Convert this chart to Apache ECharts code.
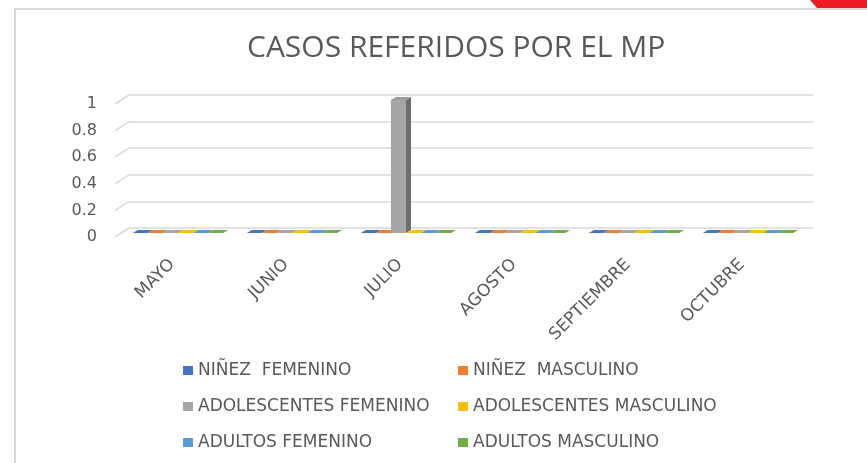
<!DOCTYPE html>
<html>
<head>
<meta charset="utf-8">
<script src="https://cdn.jsdelivr.net/npm/echarts@6/dist/echarts.min.js"></script>
<style>
  html, body { margin: 0; padding: 0; background: #fff; }
  #chart { width: 867px; height: 463px; }
</style>
</head>
<body>
<div id="chart"></div>
<script>
// datos
const meses = ['MAYO', 'JUNIO', 'JULIO', 'AGOSTO', 'SEPTIEMBRE', 'OCTUBRE'];
const ninezFemenino = [0, 0, 0, 0, 0, 0];
const ninezMasculino = [0, 0, 0, 0, 0, 0];
const adolescentesFemenino = [0, 0, 1, 0, 0, 0];
const adolescentesMasculino = [0, 0, 0, 0, 0, 0];
const adultosFemenino = [0, 0, 0, 0, 0, 0];
const adultosMasculino = [0, 0, 0, 0, 0, 0];
const yTicks = [0, 0.2, 0.4, 0.6, 0.8, 1];

const seriesDef = [
  { name: 'NIÑEZ  FEMENINO', data: ninezFemenino, color: '#4472C4', side: '#2f5597', top: '#5b86d6' },
  { name: 'NIÑEZ  MASCULINO', data: ninezMasculino, color: '#ED7D31', side: '#b85e20', top: '#f08f4e' },
  { name: 'ADOLESCENTES FEMENINO', data: adolescentesFemenino, color: '#A5A5A5', side: '#6e6e6e', top: '#9a9a9a' },
  { name: 'ADOLESCENTES MASCULINO', data: adolescentesMasculino, color: '#FFC000', side: '#bf9000', top: '#ffc91f' },
  { name: 'ADULTOS FEMENINO', data: adultosFemenino, color: '#5B9BD5', side: '#3e78ad', top: '#6fa8dc' },
  { name: 'ADULTOS MASCULINO', data: adultosMasculino, color: '#70AD47', side: '#4f7f30', top: '#7cb955' }
];

const chart = echarts.init(document.getElementById('chart'));
const titleFont = '"Open Sans", "Noto Sans", sans-serif';
const fontFam = '"DejaVu Sans", sans-serif';
const txtColor = '#595959';

// desplazamiento del plano trasero y de las barras (efecto 3D)
const backDx = 14, backDy = -9;
const barDx = 6, barDy = -4;
const depthDx = 5, depthDy = -3;

function makeBarRender(idx, s) {
  return function (params, api) {
    const cat = api.value(0);
    const val = api.value(1);
    const base = api.coord([cat, 0]);
    const topPt = api.coord([cat, val]);
    const band = api.size([1, 0])[0];
    const bw = band * 0.132;
    const x0 = base[0] - 3 * bw + idx * bw + barDx;
    const x1 = x0 + bw;
    const yb = base[1] + barDy;
    const yt = topPt[1] + barDy;
    const children = [];
    if (yb - yt > 0.5) {
      children.push({ type: 'rect', shape: { x: x0, y: yt, width: bw, height: yb - yt }, style: { fill: s.color } });
      children.push({ type: 'polygon', shape: { points: [[x1, yt], [x1 + depthDx, yt + depthDy], [x1 + depthDx, yb + depthDy], [x1, yb]] }, style: { fill: s.side } });
    }
    children.push({ type: 'polygon', shape: { points: [[x0, yt], [x1, yt], [x1 + depthDx, yt + depthDy], [x0 + depthDx, yt + depthDy]] }, style: { fill: yb - yt > 0.5 ? s.top : s.color } });
    return { type: 'group', children: children };
  };
}

const series = seriesDef.map(function (s, i) {
  return {
    name: s.name,
    type: 'custom',
    xAxisIndex: 0,
    yAxisIndex: 0,
    itemStyle: { color: s.color },
    renderItem: makeBarRender(i, s),
    encode: { x: 0, y: 1 },
    data: s.data.map(function (v, k) { return [k, v]; }),
    z: 5
  };
});

// diagonales del lado izquierdo
series.push({
  type: 'custom',
  xAxisIndex: 0,
  yAxisIndex: 0,
  silent: true,
  renderItem: function (params, api) {
    const p = api.coord([0, api.value(1)]);
    const x = params.coordSys.x;
    return {
      type: 'line',
      shape: { x1: x, y1: p[1], x2: x + backDx, y2: p[1] + backDy },
      style: { stroke: '#d9d9d9', lineWidth: 1.5 }
    };
  },
  data: yTicks.map(function (v) { return [0, v]; }),
  z: 1
});

const legendText = { color: txtColor, fontSize: 17, fontFamily: fontFam };

chart.setOption({
  backgroundColor: '#fff',
  animation: false,
  title: {
    text: 'CASOS REFERIDOS POR EL MP',
    left: 242,
    top: 28,
    textStyle: { color: txtColor, fontSize: 30, fontWeight: 'normal', fontFamily: titleFont }
  },
  legend: [
    {
      data: [seriesDef[0].name, seriesDef[2].name, seriesDef[4].name],
      orient: 'vertical',
      left: 183,
      top: 362,
      padding: 0,
      itemGap: 19,
      itemWidth: 10,
      itemHeight: 9,
      icon: 'rect',
      textStyle: legendText
    },
    {
      data: [seriesDef[1].name, seriesDef[3].name, seriesDef[5].name],
      orient: 'vertical',
      left: 458,
      top: 362,
      padding: 0,
      itemGap: 19,
      itemWidth: 10,
      itemHeight: 9,
      icon: 'rect',
      textStyle: legendText
    }
  ],
  grid: [
    { left: 115, right: 68, top: 104, bottom: 463 - 237 },
    { left: 115 + backDx, right: 68 - backDx, top: 104 + backDy, bottom: 463 - 237 - backDy }
  ],
  xAxis: [
    {
      type: 'category',
      gridIndex: 0,
      data: meses,
      axisLine: { show: false },
      axisTick: { show: false },
      axisLabel: { rotate: 45, margin: 25, color: txtColor, fontSize: 17, fontFamily: fontFam }
    },
    {
      type: 'category',
      gridIndex: 1,
      data: meses,
      show: false
    }
  ],
  yAxis: [
    {
      type: 'value',
      gridIndex: 0,
      min: 0,
      max: 1,
      interval: 0.2,
      axisLine: { show: false },
      axisTick: { show: false },
      splitLine: { show: false },
      axisLabel: { margin: 18, color: txtColor, fontSize: 16, fontFamily: fontFam }
    },
    {
      type: 'value',
      gridIndex: 1,
      min: 0,
      max: 1,
      interval: 0.2,
      axisLine: { show: false },
      axisTick: { show: false },
      axisLabel: { show: false },
      splitLine: { lineStyle: { color: '#d9d9d9', width: 1.5 } }
    }
  ],
  graphic: [
    { type: 'line', shape: { x1: 14, y1: 9, x2: 867, y2: 9 }, style: { stroke: '#d9d9d9', lineWidth: 2 } },
    { type: 'line', shape: { x1: 15, y1: 9, x2: 15, y2: 463 }, style: { stroke: '#d9d9d9', lineWidth: 2 } },
    { type: 'polygon', shape: { points: [[810, 0], [867, 0], [867, 8], [817, 8]] }, style: { fill: '#ED1C24' } }
  ],
  series: series
});
</script>
</body>
</html>
